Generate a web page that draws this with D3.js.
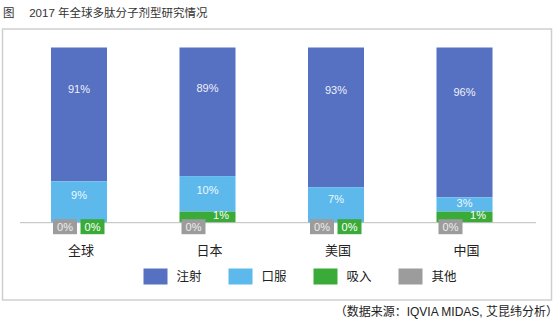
<!DOCTYPE html>
<html><head><meta charset="utf-8">
<script src="https://cdn.jsdelivr.net/npm/d3@7/dist/d3.min.js"></script>
<style>
html,body{margin:0;padding:0;background:#fff;}
svg{display:block;font-family:"Liberation Sans","Noto Sans CJK SC",sans-serif;}
</style></head>
<body><svg id="c" width="558" height="330"></svg>
<script>
const title = "图　 2017 年全球多肽分子剂型研究情况";
const source = "（数据来源：IQVIA MIDAS, 艾昆纬分析）";
const categories = ["全球", "日本", "美国", "中国"];
const seriesNames = ["注射", "口服", "吸入", "其他"];
const injection = [91, 89, 93, 96];
const oral = [9, 10, 7, 3];
const inhalation = [0, 1, 0, 1];
const other = [0, 0, 0, 0];
const colors = ["#5670c2", "#5db9ec", "#3aab38", "#9c9c9c"];

const svg = d3.select("#c");
const cjk = '"Liberation Sans","Noto Sans CJK SC",sans-serif';

svg.append("text").attr("x", 3).attr("y", 17).attr("font-size", 11.5)
  .attr("fill", "#333").style("font-family", cjk).text(title);

svg.append("rect").attr("x", 2.5).attr("y", 29).attr("width", 549).attr("height", 271)
  .attr("fill", "none").attr("stroke", "#cfcfcf").attr("stroke-width", 1.5);

const x = d3.scaleBand().domain(categories).range([14.75, 528.75])
  .paddingInner(0.564).paddingOuter(0.282);
const y = d3.scalePow().exponent(0.6).domain([0, 100]).range([222.7, 47.5]);

const rows = categories.map((c, i) => ({cat: c, inj: injection[i], oral: oral[i], inh: inhalation[i], oth: other[i]}));
const stack = d3.stack().keys(["inh", "oral", "inj"]);
const layers = stack(rows);
const colorByKey = {inj: colors[0], oral: colors[1], inh: colors[2], oth: colors[3]};

layers.slice().reverse().forEach(layer => {
  svg.append("g").selectAll("rect").data(layer).join("rect")
    .attr("x", d => x(d.data.cat))
    .attr("width", x.bandwidth())
    .attr("y", d => y(d[1]))
    .attr("height", d => y(d[0]) - y(d[1]))
    .attr("fill", colorByKey[layer.key]);
});

svg.append("line").attr("x1", 20).attr("x2", 536).attr("y1", y(0)).attr("y2", y(0))
  .attr("stroke", "#bdbdbd").attr("stroke-width", 1);

const lab = svg.append("g").attr("font-size", 11).attr("text-anchor", "middle");
const injLayer = layers[2], oralLayer = layers[1], inhLayer = layers[0];
injLayer.forEach(d => {
  lab.append("text").attr("x", x(d.data.cat) + x.bandwidth() / 2)
    .attr("y", y(d[0] + 0.6 * (d[1] - d[0]))).attr("dy", "0.35em")
    .attr("fill", "#eef1fa").text(d.data.inj + "%");
});
oralLayer.forEach(d => {
  lab.append("text").attr("x", x(d.data.cat) + x.bandwidth() / 2)
    .attr("y", y((d[0] + d[1]) / 2)).attr("dy", "0.35em")
    .attr("fill", "#eef8fd").text(d.data.oral + "%");
});
inhLayer.forEach(d => {
  const cx = x(d.data.cat) + x.bandwidth() - 14.5;
  const v = d.data.inh;
  if (v === 0) {
    const cy = y(0) + 4;
    lab.append("rect").attr("x", cx - 12).attr("y", cy - 7.5).attr("width", 24).attr("height", 15)
      .attr("fill", colors[2]);
    lab.append("text").attr("x", cx).attr("y", cy).attr("dy", "0.35em").attr("fill", "#fff").text(v + "%");
  } else {
    lab.append("text").attr("x", cx).attr("y", y((d[0] + d[1]) / 2)).attr("dy", "0.35em")
      .attr("fill", "#fff").text(v + "%");
  }
});
rows.forEach((r, i) => {
  const cx = x(r.cat) + 14;
  const cy = y(0) + 4;
  lab.append("rect").attr("x", cx - 12).attr("y", cy - 7.5).attr("width", 24).attr("height", 15)
    .attr("fill", colors[3]);
  lab.append("text").attr("x", cx).attr("y", cy).attr("dy", "0.35em").attr("fill", "#eee").text(other[i] + "%");
});

svg.append("g").selectAll("text").data(categories).join("text")
  .attr("x", d => x(d) + x.bandwidth() / 2 + 2).attr("y", 250).attr("dy", "0.35em")
  .attr("text-anchor", "middle").attr("font-size", 13).attr("fill", "#222")
  .style("font-family", cjk).text(d => d);

const lg = svg.append("g");
seriesNames.forEach((s, i) => {
  const lx = 143.5 + i * 85;
  lg.append("rect").attr("x", lx).attr("y", 268.5).attr("width", 24).attr("height", 16).attr("fill", colors[i]);
  lg.append("text").attr("x", lx + 33).attr("y", 276.5).attr("dy", "0.35em")
    .attr("font-size", 12.5).attr("fill", "#222").style("font-family", cjk).text(s);
});

svg.append("text").attr("x", 558).attr("y", 312).attr("dy", "0.35em").attr("text-anchor", "end")
  .attr("font-size", 12).attr("fill", "#222").style("font-family", cjk).text(source);
</script>
</body></html>
